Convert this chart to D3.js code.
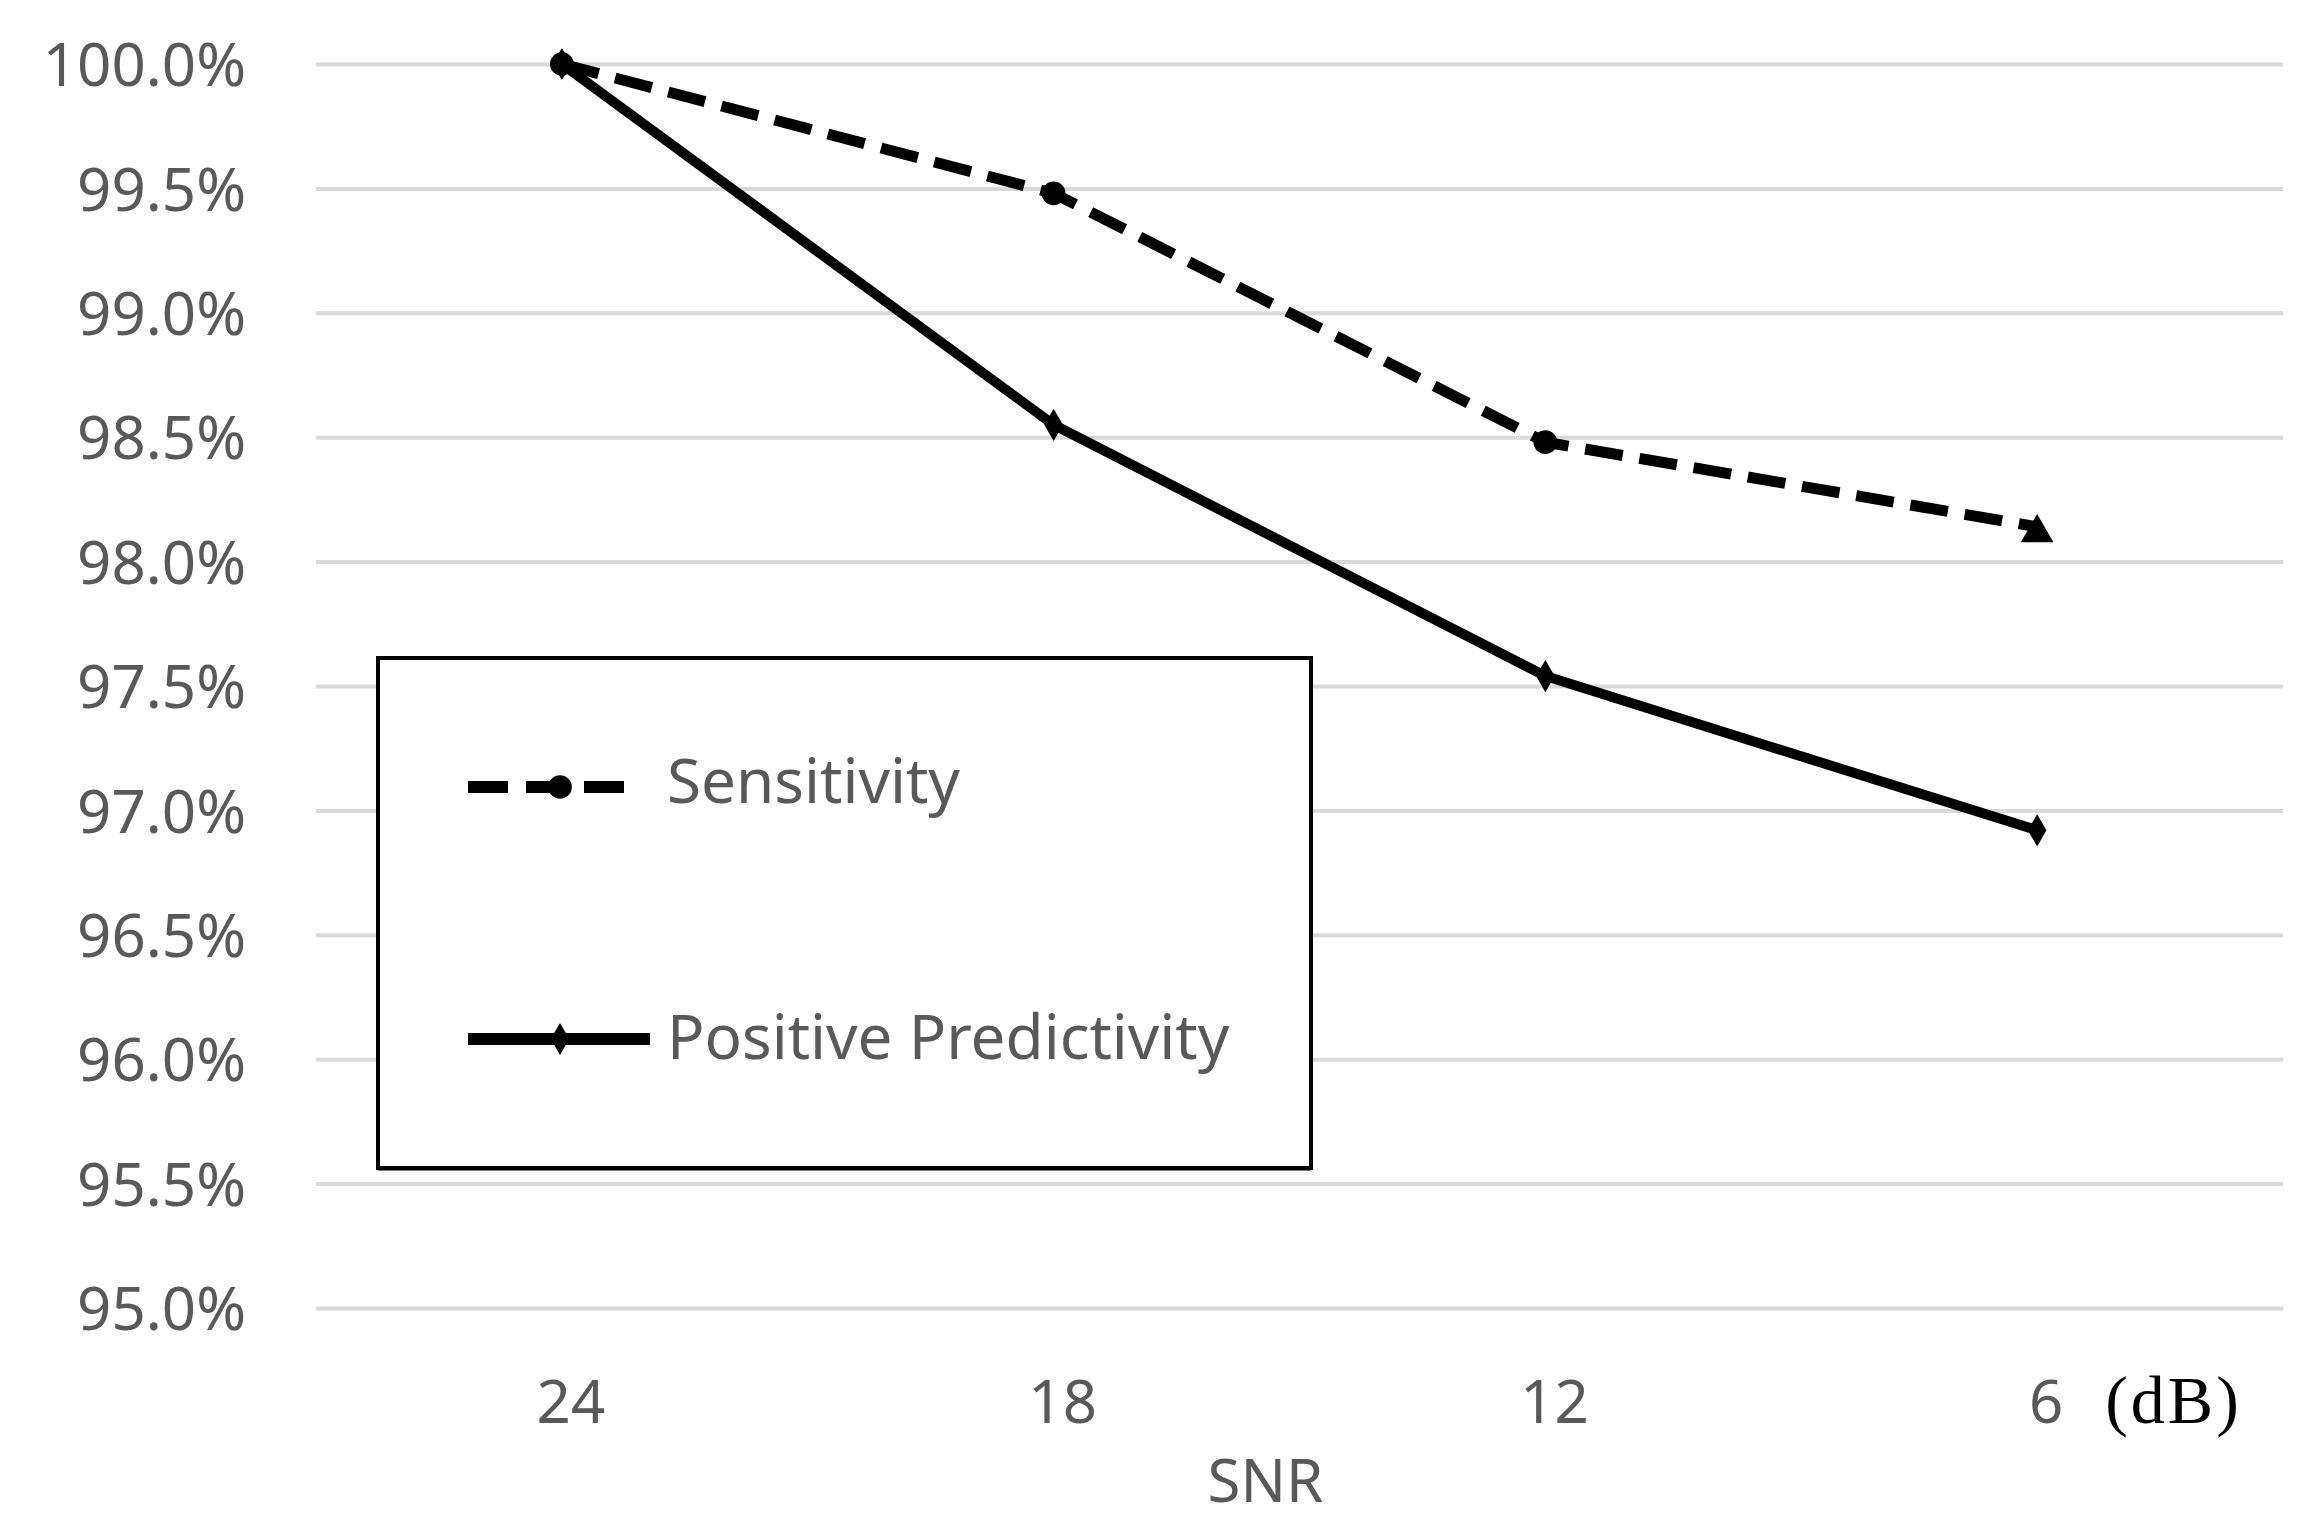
<!DOCTYPE html>
<html>
<head>
<meta charset="utf-8">
<script src="https://cdn.jsdelivr.net/npm/d3@7"></script>
<style>
    html, body { margin: 0; padding: 0; background: #fff; }
    svg text { font-family: "Noto Sans", "Open Sans", sans-serif; }
</style>
</head>
<body>
<svg id="chart"></svg>
<script>
// data
const snrLevels = ['24', '18', '12', '6'];
const sensitivity = [1.0, 0.9948, 0.9848, 0.9814];
const positivePredictivity = [1.0, 0.9855, 0.9754, 0.9692];
const yTicks = [0.95, 0.955, 0.96, 0.965, 0.97, 0.975, 0.98, 0.985, 0.99, 0.995, 1.0];
const legendLabels = ['Sensitivity', 'Positive Predictivity'];

const width = 2301;
const height = 1532;
const margin = { top: 64, right: 18, bottom: 224, left: 316 };
const innerW = width - margin.left - margin.right;
const innerH = height - margin.top - margin.bottom;

const svg = d3.select('#chart')
    .attr('width', width)
    .attr('height', height);

const g = svg.append('g')
    .attr('transform', `translate(${margin.left}, ${margin.top})`);

// scales
const x = d3.scaleBand().domain(snrLevels).range([0, innerW]);
const cx = (d) => x(d) + x.bandwidth() / 2;
const y = d3.scaleLinear().domain([0.95, 1.0]).range([innerH, 0]);

// gridlines
g.append('g')
    .attr('class', 'grid')
    .call(d3.axisLeft(y).tickValues(yTicks).tickSize(-innerW).tickFormat(''))
    .call(s => s.select('.domain').remove())
    .call(s => s.selectAll('line').attr('stroke', '#d9d9d9').attr('stroke-width', 4));

// y axis labels
g.append('g')
    .attr('class', 'y axis')
    .attr('transform', 'translate(-67, 0)')
    .call(d3.axisLeft(y).tickValues(yTicks).tickSize(0).tickFormat(d3.format('.1%')))
    .call(s => s.select('.domain').remove())
    .call(s => s.selectAll('text')
        .attr('fill', '#595959')
        .style('font-size', '60px')
        .attr('dy', '0.36em'));

// x axis labels
const xAxis = g.append('g')
    .attr('class', 'x axis')
    .attr('transform', `translate(0, ${innerH})`)
    .call(d3.axisBottom(x).tickSize(0))
    .call(s => s.select('.domain').remove());
xAxis.selectAll('text')
    .attr('fill', '#595959')
    .style('font-size', '60px')
    .attr('dx', 9)
    .attr('y', 115)
    .attr('dy', 0);

// unit next to the last tick
xAxis.append('text')
    .attr('x', cx('6') + 68)
    .attr('y', 115)
    .attr('fill', '#000')
    .attr('text-anchor', 'start')
    .style('font-family', '"Liberation Serif", "DejaVu Serif", serif')
    .style('font-size', '68px')
    .attr('letter-spacing', 3)
    .text('(dB)');

// axis title
g.append('text')
    .attr('x', innerW / 2 - 34)
    .attr('y', innerH + 194)
    .attr('text-anchor', 'middle')
    .attr('fill', '#595959')
    .style('font-size', '60px')
    .text('SNR');

// lines
const line = d3.line()
    .x((d, i) => cx(snrLevels[i]))
    .y((d) => y(d));

g.append('path')
    .datum(positivePredictivity)
    .attr('d', line)
    .attr('fill', 'none')
    .attr('stroke', '#000')
    .attr('stroke-width', 10)
    .attr('stroke-linejoin', 'round');

g.append('path')
    .datum(sensitivity)
    .attr('d', line)
    .attr('fill', 'none')
    .attr('stroke', '#000')
    .attr('stroke-width', 11)
    .attr('stroke-dasharray', '38,17');

// markers
const diamond = d3.symbol().type(d3.symbolDiamond).size(300);
const circle = d3.symbol().type(d3.symbolCircle).size(440);
const triangle = d3.symbol().type(d3.symbolTriangle).size(460);

g.selectAll('.pp-marker')
    .data(positivePredictivity)
    .enter()
    .append('path')
    .attr('class', 'pp-marker')
    .attr('d', diamond)
    .attr('transform', (d, i) => `translate(${cx(snrLevels[i])}, ${y(d)})`)
    .attr('fill', '#000');

g.selectAll('.sens-marker')
    .data(sensitivity)
    .enter()
    .append('path')
    .attr('class', 'sens-marker')
    .attr('d', (d, i) => i === sensitivity.length - 1 ? triangle() : circle())
    .attr('transform', (d, i) => `translate(${cx(snrLevels[i])}, ${y(d) + (i === sensitivity.length - 1 ? 6 : 0)})`)
    .attr('fill', '#000');

// legend
const legend = svg.append('g')
    .attr('class', 'legend')
    .attr('transform', 'translate(378, 658)');

legend.append('rect')
    .attr('width', 933)
    .attr('height', 510)
    .attr('fill', '#fff')
    .attr('stroke', '#000')
    .attr('stroke-width', 4);

legend.append('line')
    .attr('x1', 0)
    .attr('x2', 933)
    .attr('y1', 511)
    .attr('y2', 511)
    .attr('stroke', '#000')
    .attr('stroke-width', 3);

const rows = [
    { label: legendLabels[0], y: 129, dy: '0.26em', dash: '40,18', marker: circle(), len: 170 },
    { label: legendLabels[1], y: 381, dy: '0.32em', dash: null, marker: diamond(), len: 182 }
];

const item = legend.selectAll('.item')
    .data(rows)
    .enter()
    .append('g')
    .attr('class', 'item')
    .attr('transform', (d) => `translate(90, ${d.y})`);

item.append('line')
    .attr('x1', 0)
    .attr('x2', (d) => d.len)
    .attr('stroke', '#000')
    .attr('stroke-width', 12)
    .attr('stroke-dasharray', (d) => d.dash);

item.append('path')
    .attr('d', (d) => d.marker)
    .attr('transform', 'translate(92, 0)')
    .attr('fill', '#000');

item.append('text')
    .attr('x', 199)
    .attr('y', 0)
    .attr('dy', (d) => d.dy)
    .attr('fill', '#595959')
    .style('font-size', '62px')
    .text((d) => d.label);
</script>
</body>
</html>
